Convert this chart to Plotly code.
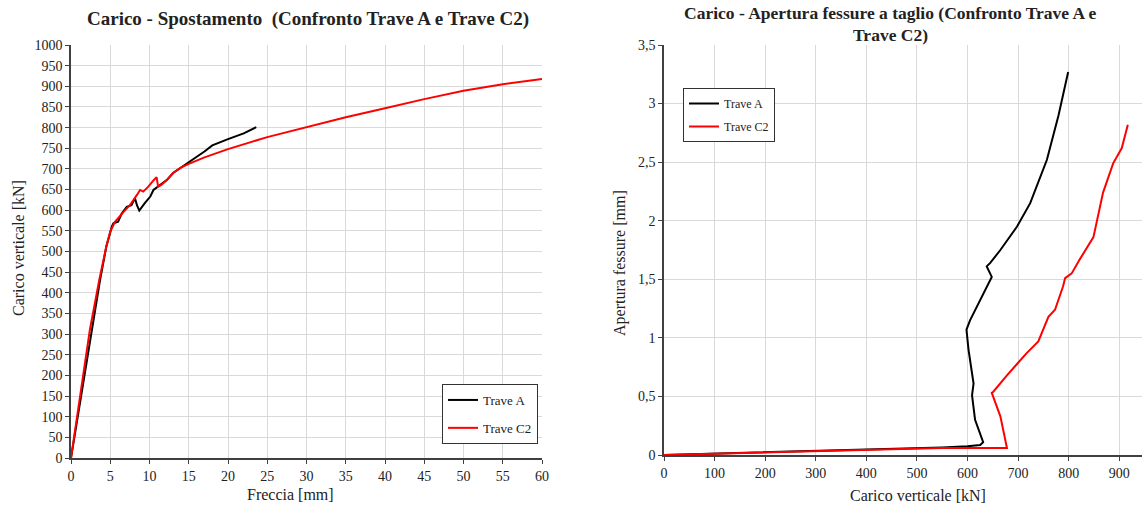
import plotly.graph_objects as go

# ---- Left chart: Carico - Spostamento ----
freccia_A = [0, 1, 2, 2.6, 3.7, 4.5, 5.0, 5.2, 5.4, 6.0, 6.46, 7.1, 7.7, 8.15, 8.4, 8.7,
             9.4, 10.1, 10.5, 11.3, 12.2, 13, 14, 15, 16, 17, 18, 19, 20, 22, 23.6]
carico_A = [0, 118, 236, 310, 431, 512, 550, 560, 568, 572, 592, 608, 612, 629, 612, 599,
            617, 633, 649, 661, 673, 690, 703, 714, 728, 742, 757, 765, 772, 786, 801]

freccia_C2 = [0, 1, 2, 2.4, 3.6, 4.5, 5.0, 5.6, 6.7, 7.5, 8.4, 8.8, 9.2, 9.85, 10.5, 10.9,
              11.1, 11.5, 12.2, 13, 14, 15, 17, 20, 25, 30, 35, 40, 45, 50, 55, 60]
carico_C2 = [0, 128, 256, 310, 431, 512, 548, 572, 596, 612, 637, 649, 645, 657, 672, 680,
             657, 661, 673, 690, 703, 712, 728, 748, 777, 801, 825, 847, 869, 889, 905, 918]

# ---- Right chart: Carico - Apertura fessure ----
load_A = [0, 100, 200, 300, 400, 500, 550, 600, 625, 631, 615, 609, 612, 602, 598, 605,
          632, 648, 638, 645, 665, 698, 724, 757, 780, 799]
crack_A = [0, 0.012, 0.025, 0.035, 0.045, 0.055, 0.065, 0.075, 0.085, 0.11, 0.30, 0.51,
           0.61, 0.90, 1.07, 1.15, 1.38, 1.52, 1.61, 1.64, 1.75, 1.95, 2.15, 2.52, 2.90, 3.27]

load_C2 = [0, 100, 200, 300, 400, 500, 550, 678, 665, 648, 651, 678, 704, 717, 740, 760,
           773, 789, 793, 806, 822, 849, 868, 888, 905, 911, 917]
crack_C2 = [0, 0.01, 0.02, 0.03, 0.04, 0.05, 0.06, 0.06, 0.33, 0.53, 0.54, 0.68, 0.81,
            0.87, 0.97, 1.18, 1.24, 1.44, 1.51, 1.55, 1.67, 1.86, 2.24, 2.49, 2.62, 2.72, 2.82]

y2_ticks = [0, 0.5, 1, 1.5, 2, 2.5, 3, 3.5]
y2_labels = ["0", "0,5", "1", "1,5", "2", "2,5", "3", "3,5"]

SERIF = "Liberation Serif, Times New Roman, serif"
GRID = "#d9d9d9"
AX = "#404040"
W, H = 1142, 506


def px(x):
    return x / W


def py(y):
    return 1 - y / H


fig = go.Figure()
fig.add_trace(go.Scatter(x=freccia_A, y=carico_A, mode="lines", name="Trave A",
                         line=dict(color="black", width=2), xaxis="x", yaxis="y",
                         legend="legend", legendgroup="a"))
fig.add_trace(go.Scatter(x=freccia_C2, y=carico_C2, mode="lines", name="Trave C2",
                         line=dict(color="#ff0000", width=2), xaxis="x", yaxis="y",
                         legend="legend", legendgroup="c"))
fig.add_trace(go.Scatter(x=load_A, y=crack_A, mode="lines", name="Trave A",
                         line=dict(color="black", width=2), xaxis="x2", yaxis="y2",
                         legend="legend2", legendgroup="a2"))
fig.add_trace(go.Scatter(x=load_C2, y=crack_C2, mode="lines", name="Trave C2",
                         line=dict(color="#ff0000", width=2), xaxis="x2", yaxis="y2",
                         legend="legend2", legendgroup="c2"))

axis_common = dict(showgrid=True, gridcolor=GRID, gridwidth=1, zeroline=False,
                   showline=True, linecolor=AX, linewidth=1.5, ticks="outside",
                   ticklen=4, tickcolor=AX, automargin=False,
                   tickfont=dict(family=SERIF, size=14, color="#222"))

title_font = dict(family=SERIF, size=16, color="#222")

fig.update_layout(
    width=W, height=H,
    margin=dict(l=0, r=0, t=0, b=0),
    paper_bgcolor="white", plot_bgcolor="white",
    font=dict(family=SERIF, color="#222"),
    showlegend=True,
    xaxis=dict(domain=[px(71), px(542)], range=[0, 60], dtick=5, anchor="y", **axis_common),
    yaxis=dict(domain=[py(458), py(45)], range=[0, 1000], dtick=50, anchor="x", **axis_common),
    xaxis2=dict(domain=[px(664), 1.0], range=[0, 945], dtick=100, anchor="y2", **axis_common),
    yaxis2=dict(domain=[py(455), py(45)], range=[0, 3.5], tickvals=y2_ticks, ticktext=y2_labels,
                anchor="x2", **axis_common),
    legend=dict(x=px(442), y=py(384), xanchor="left", yanchor="top",
                bordercolor="#333", borderwidth=1, bgcolor="white", tracegroupgap=8,
                traceorder="grouped",
                font=dict(family=SERIF, size=13, color="#222")),
    legend2=dict(x=px(683), y=py(88), xanchor="left", yanchor="top",
                 bordercolor="#333", borderwidth=1, bgcolor="white", tracegroupgap=4,
                 traceorder="grouped",
                 font=dict(family=SERIF, size=12, color="#222")),
    annotations=[
        dict(text="<b>Carico - Spostamento  (Confronto Trave A e Trave C2)</b>",
             x=px(308), y=py(19), xref="paper", yref="paper", showarrow=False,
             xanchor="center", yanchor="middle", font=dict(family=SERIF, size=19, color="#222")),
        dict(text="<b>Carico - Apertura fessure a taglio (Confronto Trave A e</b>",
             x=px(890), y=py(13), xref="paper", yref="paper", showarrow=False,
             xanchor="center", yanchor="middle", font=dict(family=SERIF, size=17.5, color="#222")),
        dict(text="<b>Trave C2)</b>",
             x=px(890), y=py(35), xref="paper", yref="paper", showarrow=False,
             xanchor="center", yanchor="middle", font=dict(family=SERIF, size=17.5, color="#222")),
        dict(text="Freccia [mm]", x=px(290), y=py(494), xref="paper", yref="paper",
             showarrow=False, xanchor="center", yanchor="middle", font=title_font),
        dict(text="Carico verticale [kN]", x=px(918), y=py(495), xref="paper", yref="paper",
             showarrow=False, xanchor="center", yanchor="middle", font=title_font),
        dict(text="Carico verticale [kN]", x=px(18), y=py(248), xref="paper", yref="paper",
             showarrow=False, xanchor="center", yanchor="middle", textangle=-90, font=title_font),
        dict(text="Apertura fessure [mm]", x=px(620), y=py(263), xref="paper", yref="paper",
             showarrow=False, xanchor="center", yanchor="middle", textangle=-90, font=title_font),
    ],
)

fig.write_html(
    "out.html",
    config={"displayModeBar": False},
    post_script="document.body.style.margin='0';document.body.style.overflow='hidden';",
)
